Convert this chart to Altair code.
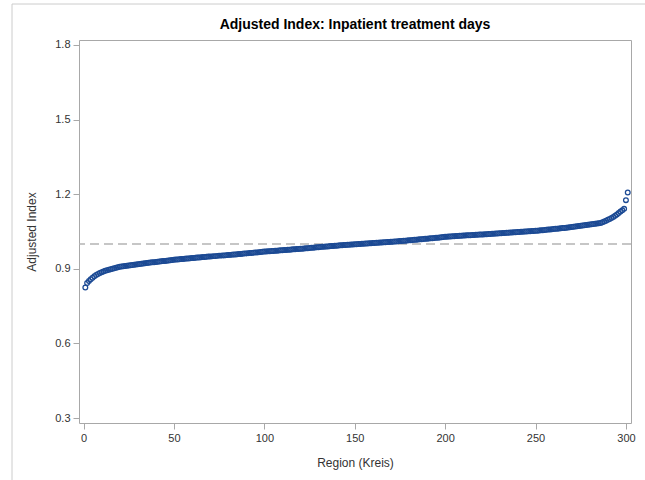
import altair as alt
import pandas as pd

# Adjusted index per region, sorted ascending
index_values = [
    0.825, 0.843, 0.851, 0.858, 0.864, 0.870, 0.875, 0.879, 0.883, 0.886,
    0.889, 0.892, 0.894, 0.896, 0.898, 0.900, 0.902, 0.904, 0.906, 0.908,
    0.909, 0.910, 0.911, 0.912, 0.913, 0.914, 0.915, 0.916, 0.917, 0.918,
    0.919, 0.920, 0.921, 0.922, 0.923, 0.924, 0.925, 0.926, 0.926, 0.927,
    0.928, 0.929, 0.930, 0.931, 0.931, 0.932, 0.933, 0.934, 0.935, 0.936,
    0.937, 0.937, 0.938, 0.939, 0.939, 0.940, 0.941, 0.941, 0.942, 0.943,
    0.943, 0.944, 0.945, 0.945, 0.946, 0.947, 0.947, 0.948, 0.949, 0.949,
    0.950, 0.951, 0.951, 0.952, 0.953,
    0.953, 0.954, 0.954, 0.955, 0.956, 0.956, 0.957, 0.958, 0.958, 0.959,
    0.960, 0.960, 0.961, 0.962, 0.962, 0.963, 0.964, 0.964, 0.965, 0.966,
    0.966, 0.967, 0.968, 0.969, 0.970,
    0.970, 0.971, 0.971, 0.972, 0.972, 0.973, 0.973, 0.974, 0.975, 0.975,
    0.976, 0.976, 0.977, 0.977, 0.978, 0.979, 0.979, 0.980, 0.980, 0.981,
    0.981, 0.982, 0.983, 0.983, 0.984,
    0.985, 0.985, 0.986, 0.987, 0.987, 0.988, 0.989, 0.989, 0.990, 0.990,
    0.991, 0.992, 0.992, 0.993, 0.993, 0.994, 0.995, 0.995, 0.996, 0.996,
    0.997, 0.997, 0.998, 0.998, 0.999,
    0.999, 1.000, 1.000, 1.001, 1.001, 1.002, 1.002, 1.003, 1.003, 1.004,
    1.004, 1.005, 1.005, 1.006, 1.006, 1.007, 1.007, 1.008, 1.008, 1.009,
    1.009, 1.010, 1.010, 1.011, 1.012,
    1.012, 1.013, 1.013, 1.014, 1.015, 1.015, 1.016, 1.017, 1.017, 1.018,
    1.019, 1.019, 1.020, 1.021, 1.021, 1.022, 1.023, 1.023, 1.024, 1.025,
    1.025, 1.026, 1.027, 1.028, 1.029,
    1.029, 1.030, 1.030, 1.031, 1.031, 1.032, 1.032, 1.033, 1.033, 1.034,
    1.034, 1.035, 1.035, 1.035, 1.036, 1.036, 1.037, 1.037, 1.038, 1.038,
    1.038, 1.039, 1.039, 1.040, 1.040,
    1.041, 1.041, 1.042, 1.042, 1.043, 1.043, 1.044, 1.044, 1.045, 1.045,
    1.046, 1.046, 1.047, 1.047, 1.048, 1.048, 1.049, 1.049, 1.050, 1.050,
    1.051, 1.051, 1.052, 1.052, 1.053,
    1.053, 1.054, 1.055, 1.055, 1.056, 1.057, 1.058, 1.058, 1.059, 1.060,
    1.061, 1.061, 1.062, 1.063, 1.064, 1.064, 1.065, 1.066, 1.067, 1.068,
    1.069, 1.070, 1.071, 1.072, 1.073, 1.074, 1.075, 1.076, 1.077, 1.078,
    1.079, 1.080, 1.081, 1.082, 1.083,
    1.084, 1.087, 1.090, 1.093, 1.097, 1.100, 1.104, 1.108, 1.113, 1.118,
    1.124, 1.130, 1.135, 1.141, 1.176, 1.207,
]
regions = list(range(1, len(index_values) + 1))
reference_level = [1.0]
x_ticks = [0, 50, 100, 150, 200, 250, 300]
y_ticks = [0.3, 0.6, 0.9, 1.2, 1.5, 1.8]

df = pd.DataFrame({"region": regions, "index": index_values})
ref_df = pd.DataFrame({"ref": reference_level})

FONT = "Liberation Sans"
GRID_GRAY = "#a8a8a8"

points = alt.Chart(df).mark_point(
    shape="circle", filled=False, size=22, strokeWidth=1.3, color="#1c4a94", opacity=1
).encode(
    x=alt.X(
        "region:Q",
        title="Region (Kreis)",
        scale=alt.Scale(domain=[-2.5, 302.8], nice=False, zero=False),
        axis=alt.Axis(values=x_ticks, format="d", grid=False),
    ),
    y=alt.Y(
        "index:Q",
        title="Adjusted Index",
        scale=alt.Scale(domain=[0.28, 1.82], nice=False, zero=False),
        axis=alt.Axis(values=y_ticks, format=".1f", grid=False),
    ),
)

ref_line = alt.Chart(ref_df).mark_rule(
    color="#b4b4b4", strokeWidth=1.6, strokeDash=[9, 5]
).encode(y="ref:Q")

# light outer frame of the graph output (decoration)
frame_top = alt.Chart(ref_df).mark_rule(color="#cccccc", strokeWidth=1, clip=False).encode(
    x=alt.value(-67), x2=alt.value(570), y=alt.value(-36)
)
frame_left = alt.Chart(ref_df).mark_rule(color="#cccccc", strokeWidth=1, clip=False).encode(
    x=alt.value(-67), y=alt.value(-36), y2=alt.value(445)
)

chart = alt.layer(ref_line, points, frame_top, frame_left).properties(
    width=552,
    height=383,
    title=alt.TitleParams(
        "Adjusted Index: Inpatient treatment days",
        font=FONT, fontSize=14, fontWeight="bold", color="#000000",
        anchor="middle", offset=0, dy=28,
    ),
    padding={"left": 79, "top": 40, "right": 14, "bottom": 57},
    autosize=alt.AutoSizeParams(type="none"),
).configure_view(
    stroke=GRID_GRAY, strokeWidth=1
).configure_axis(
    labelFont=FONT, titleFont=FONT, labelFontSize=11, titleFontSize=12,
    labelColor="#333333", titleColor="#333333", titleFontWeight="normal",
    domain=False, tickColor=GRID_GRAY, tickSize=6, labelPadding=3,
).configure_axisY(
    titlePadding=16,
).configure_axisX(
    titlePadding=14,
)

chart.save("out.html", embed_options={"renderer": "svg", "actions": False})
